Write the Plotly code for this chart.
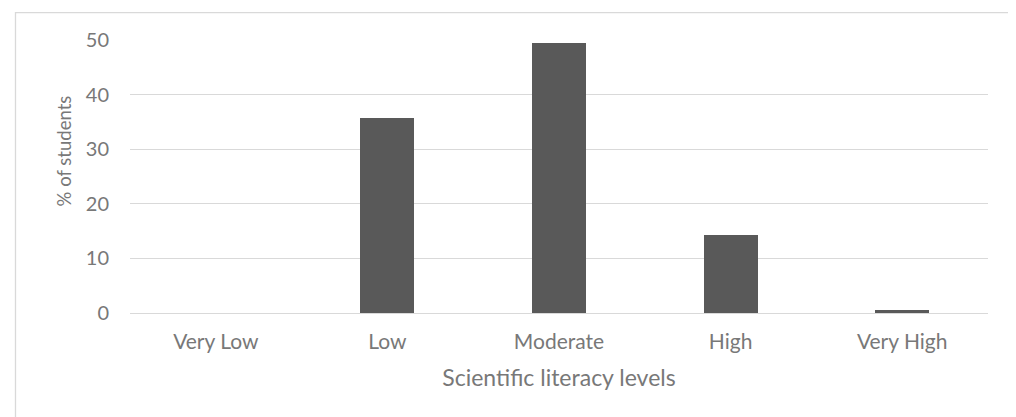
import plotly.graph_objects as go

categories = ["Very Low", "Low", "Moderate", "High", "Very High"]
values = [0, 35.8, 49.4, 14.3, 0.55]
y_ticks = [0, 10, 20, 30, 40, 50]

W, H = 1008, 409
L, R, T, B = 122, 28, 32, 103.7
pw = W - L - R
ph = H - T - B

font_family = "Lato, 'Open Sans', sans-serif"
text_color = "#787878"
grid_color = "#d9d9d9"

fig = go.Figure(
    go.Bar(
        x=categories,
        y=values,
        marker=dict(color="#595959", line=dict(width=0)),
        width=0.315,
    )
)

def px_x(px):
    return (px - L) / pw

def px_y(py):
    return (H - B - py) / ph

fig.add_shape(
    type="rect", xref="paper", yref="paper",
    x0=px_x(7.5), x1=px_x(1006.5), y0=px_y(430), y1=px_y(4.5),
    line=dict(color="#d9d9d9", width=1.3), fillcolor="rgba(0,0,0,0)", layer="below",
)

fig.add_annotation(
    text="% of students", textangle=-90, xref="paper", yref="paper",
    x=px_x(56), y=px_y(143.5), xanchor="center", yanchor="middle",
    showarrow=False, font=dict(size=18.5, color=text_color, family=font_family),
)

fig.update_layout(
    width=W, height=H,
    margin=dict(l=L, r=R, t=T, b=B, autoexpand=False),
    paper_bgcolor="white", plot_bgcolor="white",
    showlegend=False,
    font=dict(family=font_family, color=text_color, size=21),
    bargap=0,
    xaxis=dict(
        showgrid=False, showline=True, linecolor=grid_color, linewidth=1.3,
        ticks="", tickfont=dict(size=21, color=text_color),
        ticklabelstandoff=10,
        title=dict(text="Scientific literacy levels", font=dict(size=23, color=text_color), standoff=17),
        fixedrange=True,
    ),
    yaxis=dict(
        range=[0, 50], tickvals=y_ticks, showgrid=True, gridcolor=grid_color, gridwidth=1.3,
        zeroline=False, showline=False, ticks="",
        tickfont=dict(size=20, color=text_color),
        ticklabelstandoff=20,
        fixedrange=True,
    ),
)

fig.write_html("out.html", config={"displayModeBar": False})
